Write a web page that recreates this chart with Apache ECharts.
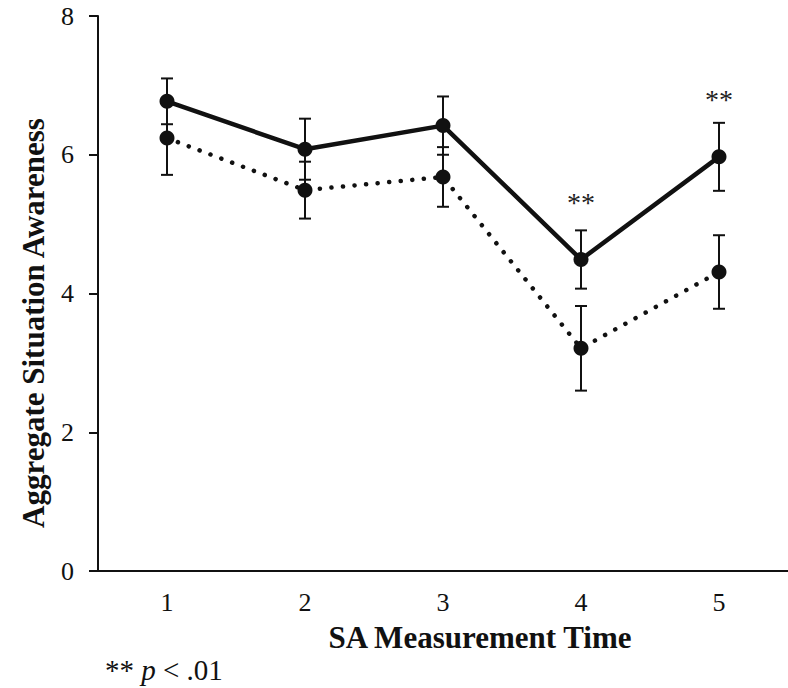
<!DOCTYPE html>
<html>
<head>
<meta charset="utf-8">
<script src="https://cdn.jsdelivr.net/npm/echarts@6/dist/echarts.min.js"></script>
<style>
html,body{margin:0;padding:0;background:#fff;}
#chart{width:788px;height:688px;}
</style>
</head>
<body>
<div id="chart"></div>
<script>
// ---- data ----
var categories = ['1', '2', '3', '4', '5'];
var solidMeans = [6.77, 6.08, 6.42, 4.49, 5.97];
var solidErrors = [0.33, 0.44, 0.42, 0.42, 0.49];
var dottedMeans = [6.24, 5.49, 5.68, 3.21, 4.31];
var dottedErrors = [0.53, 0.41, 0.43, 0.61, 0.53];
var sigMarks = ['', '', '', '**', '**'];
var yTicks = [0, 2, 4, 6, 8];
var xTitle = 'SA Measurement Time';
var yTitle = 'Aggregate Situation Awareness';

var FONT = '"Liberation Serif", "Times New Roman", serif';
var INK = '#111';
var NB = '\u00a0';

function errorData(means, errs) {
  return means.map(function (m, i) { return [i, m - errs[i], m + errs[i]]; });
}

function renderError(params, api) {
  var x = api.value(0);
  var lo = api.coord([x, api.value(1)]);
  var hi = api.coord([x, api.value(2)]);
  var hw = 6;
  var st = { stroke: INK, lineWidth: 2 };
  return {
    type: 'group',
    children: [
      { type: 'line', shape: { x1: hi[0], y1: hi[1], x2: lo[0], y2: lo[1] }, style: st },
      { type: 'line', shape: { x1: hi[0] - hw, y1: hi[1], x2: hi[0] + hw, y2: hi[1] }, style: st },
      { type: 'line', shape: { x1: lo[0] - hw, y1: lo[1], x2: lo[0] + hw, y2: lo[1] }, style: st }
    ]
  };
}

var chart = echarts.init(document.getElementById('chart'), null, { renderer: 'svg' });
chart.setOption({
  backgroundColor: '#fff',
  animation: false,
  grid: { left: 98, top: 16, width: 696, bottom: 117 },
  xAxis: {
    type: 'category',
    data: categories,
    boundaryGap: true,
    axisLine: { lineStyle: { color: INK, width: 2 } },
    axisTick: { alignWithLabel: true, length: 6, lineStyle: { color: INK, width: 2 } },
    axisLabel: { color: INK, fontFamily: FONT, fontSize: 26, margin: 18 },
    splitLine: { show: false }
  },
  yAxis: {
    type: 'value',
    min: yTicks[0],
    max: yTicks[yTicks.length - 1],
    interval: yTicks[1] - yTicks[0],
    axisLine: { show: true, lineStyle: { color: INK, width: 2 } },
    axisTick: { show: true, length: 9, lineStyle: { color: INK, width: 2 } },
    axisLabel: { color: INK, fontFamily: FONT, fontSize: 26, margin: 24 },
    splitLine: { show: false }
  },
  graphic: [
    {
      type: 'text', x: 33, y: 323, rotation: Math.PI / 2,
      style: { text: yTitle, fill: INK, font: 'bold 31px ' + FONT, textAlign: 'center', textVerticalAlign: 'middle' }
    },
    {
      type: 'text', x: 480, y: 637,
      style: { text: xTitle, fill: INK, font: 'bold 31px ' + FONT, textAlign: 'center', textVerticalAlign: 'middle' }
    },
    {
      type: 'text', x: 105, y: 670,
      style: {
        text: '{a|**' + NB + '}{b|p}{a|' + NB + '<' + NB + '.01}',
        textVerticalAlign: 'middle',
        rich: {
          a: { fontFamily: FONT, fontSize: 29, fill: INK, color: INK },
          b: { fontFamily: FONT, fontSize: 29, fontStyle: 'italic', fill: INK, color: INK }
        }
      }
    }
  ],
  series: [
    {
      type: 'custom', name: 'solidErr', renderItem: renderError,
      data: errorData(solidMeans, solidErrors), z: 1
    },
    {
      type: 'custom', name: 'dottedErr', renderItem: renderError,
      data: errorData(dottedMeans, dottedErrors), z: 1
    },
    {
      type: 'line', name: 'dotted', data: dottedMeans, z: 2,
      symbol: 'circle', symbolSize: 15,
      itemStyle: { color: INK },
      lineStyle: { color: INK, width: 4.5, type: [0.1, 11.5], cap: 'round' }
    },
    {
      type: 'line', name: 'solid', data: solidMeans, z: 3,
      symbol: 'circle', symbolSize: 15,
      itemStyle: { color: INK },
      lineStyle: { color: INK, width: 4.5, type: 'solid' },
      label: {
        show: true, position: 'top', distance: 36,
        fontFamily: FONT, fontSize: 28, color: '#222',
        formatter: function (p) { return sigMarks[p.dataIndex]; }
      }
    }
  ]
});
</script>
</body>
</html>
